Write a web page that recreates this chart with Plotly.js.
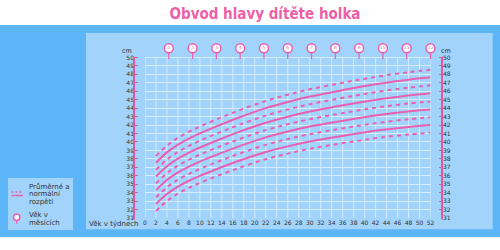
<!DOCTYPE html>
<html>
<head>
<meta charset="utf-8">
<script src="https://cdn.plot.ly/plotly-3.0.1.min.js"></script>
<style>html,body{margin:0;padding:0;background:#fff;}#chart{width:500px;height:250px;}</style>
</head>
<body>
<div id="chart"></div>
<script>
// ---- data ----
const weeks = [2, 4, 6, 8, 10, 13, 17, 22, 26, 30, 35, 39, 43, 48, 52];
const line1 = [38.35, 39.57, 40.49, 41.21, 41.83, 42.66, 43.70, 44.85, 45.59, 46.23, 46.88, 47.37, 47.81, 48.26, 48.55];
const line2 = [37.55, 38.77, 39.68, 40.40, 41.01, 41.84, 42.87, 44.01, 44.74, 45.37, 46.01, 46.50, 46.93, 47.37, 47.65];
const line3 = [36.70, 37.91, 38.82, 39.54, 40.15, 40.97, 41.99, 43.12, 43.84, 44.47, 45.10, 45.57, 46.00, 46.43, 46.70];
const line4 = [35.92, 37.13, 38.03, 38.74, 39.34, 40.15, 41.17, 42.28, 42.99, 43.60, 44.22, 44.68, 45.09, 45.51, 45.77];
const line5 = [35.10, 36.30, 37.20, 37.90, 38.50, 39.30, 40.30, 41.40, 42.10, 42.70, 43.30, 43.75, 44.15, 44.55, 44.80];
const line6 = [34.30, 35.49, 36.39, 37.08, 37.68, 38.47, 39.45, 40.54, 41.23, 41.82, 42.40, 42.84, 43.23, 43.61, 43.85];
const line7 = [33.45, 34.64, 35.53, 36.22, 36.81, 37.60, 38.58, 39.66, 40.34, 40.92, 41.50, 41.93, 42.31, 42.69, 42.92];
const line8 = [32.65, 33.84, 34.72, 35.41, 35.99, 36.77, 37.74, 38.81, 39.48, 40.05, 40.62, 41.04, 41.41, 41.78, 42.00];
const line9 = [31.83, 33.01, 33.90, 34.58, 35.16, 35.94, 36.90, 37.96, 38.62, 39.19, 39.75, 40.16, 40.53, 40.88, 41.10];
const months = [1, 2, 3, 4, 5, 6, 7, 8, 9, 10, 11, 12];
const xTicks = [0,2,4,6,8,10,12,14,16,18,20,22,24,26,28,30,32,34,36,38,40,42,44,46,48,50,52];
const yTicks = [31,32,33,34,35,36,37,38,39,40,41,42,43,44,45,46,47,48,49,50];
const titleText = 'Obvod hlavy dítěte holka';
const xLabel = 'Věk v týdnech';
const unitLabel = 'cm';
const legendLines = ['Průměrné a', 'normální', 'rozpětí'];
const legendPins = ['Věk v', 'měsících'];

// ---- styling ----
const PINK = '#ea5fb0';
const AXPINK = '#e8559f';
const GRID = '#d4ecfd';
const TXT = '#333333';
const SMALL = 'DejaVu Sans, Verdana, sans-serif';

const Y_MIN = yTicks[0];
const Y_GRID_TOP = yTicks[yTicks.length - 1];
const Y_TOP = 52.07;   // room above the grid for the month pins
const X_MAX = xTicks[xTicks.length - 1];

const traces = [];
// vertical grid lines (stop at the top grid value)
const gx = [], gy = [];
xTicks.forEach(w => { gx.push(w, w, null); gy.push(Y_MIN, Y_GRID_TOP, null); });
traces.push({x: gx, y: gy, type: 'scatter', mode: 'lines', line: {color: GRID, width: 1},
             showlegend: false, hoverinfo: 'skip'});

const curves = [line1, line2, line3, line4, line5, line6, line7, line8, line9];
curves.forEach((vals, i) => traces.push({
  x: weeks, y: vals, type: 'scatter', mode: 'lines',
  line: {color: PINK, width: 2, shape: 'spline', smoothing: 1, dash: (i % 2 === 0) ? '4px,4px' : 'solid'},
  showlegend: false, hoverinfo: 'skip'
}));

const monthWeeks = months.map(m => m * X_MAX / 12);
traces.push({
  x: monthWeeks, y: months.map(() => 50.31), type: 'scatter', mode: 'markers',
  marker: {symbol: 'line-ns', size: 6, color: PINK, line: {color: PINK, width: 1.2}},
  cliponaxis: false, showlegend: false, hoverinfo: 'skip'
});
traces.push({
  x: monthWeeks, y: months.map(() => 51.09), type: 'scatter', mode: 'markers+text',
  marker: {symbol: 'circle', size: 9, color: '#ffffff', line: {color: PINK, width: 1.5}},
  text: months.map(String), textposition: 'middle center',
  textfont: {family: SMALL, size: 4.5, color: PINK},
  cliponaxis: false, showlegend: false, hoverinfo: 'skip'
});
traces.push({x: [null], y: [null], yaxis: 'y2', type: 'scatter', showlegend: false, hoverinfo: 'skip'});
traces.push({x: [null], y: [null], yaxis: 'y3', type: 'scatter', showlegend: false, hoverinfo: 'skip'});

// paper-coordinate helpers (plot paper spans x 134..442 px, y 40..218 px)
const PX = px => (px - 134) / 308;
const PY = py => (218 - py) / 178;

const sideAxis = (side, pos) => ({
  overlaying: 'y', anchor: 'free', position: pos, side: side,
  range: [Y_MIN, Y_TOP], tickvals: yTicks, showgrid: false, zeroline: false,
  showline: false,
  ticks: 'inside', ticklen: 3, tickwidth: 1, tickcolor: AXPINK,
  tickfont: {family: SMALL, size: 6, color: TXT}, fixedrange: true
});

const annotations = [
  {xref: 'paper', yref: 'paper', x: PX(140.5), y: PY(224.3), xanchor: 'right', yanchor: 'middle',
   text: xLabel, showarrow: false, font: {family: SMALL, size: 7, color: TXT}},
  {xref: 'paper', yref: 'paper', x: PX(126.7), y: PY(50.7), xanchor: 'center', yanchor: 'middle',
   text: unitLabel, showarrow: false, font: {family: SMALL, size: 6.5, color: TXT}},
  {xref: 'paper', yref: 'paper', x: PX(445.5), y: PY(50.7), xanchor: 'center', yanchor: 'middle',
   text: unitLabel, showarrow: false, font: {family: SMALL, size: 6.5, color: TXT}}
];
const legTextY = [186.7, 194.2, 201.7];
legendLines.forEach((t, i) => annotations.push({
  xref: 'paper', yref: 'paper', x: PX(26.5), y: PY(legTextY[i]), xanchor: 'left', yanchor: 'middle',
  text: t, showarrow: false, font: {family: SMALL, size: 7, color: TXT}
}));
const pinTextY = [215, 222.7];
legendPins.forEach((t, i) => annotations.push({
  xref: 'paper', yref: 'paper', x: PX(26.5), y: PY(pinTextY[i]), xanchor: 'left', yanchor: 'middle',
  text: t, showarrow: false, font: {family: SMALL, size: 7, color: TXT}
}));

const shapes = [
  {type: 'rect', xref: 'paper', yref: 'paper', x0: PX(0), x1: PX(500), y0: PY(237), y1: PY(25),
   fillcolor: '#5bb5f6', line: {width: 0}, layer: 'below'},
  {type: 'rect', xref: 'paper', yref: 'paper', x0: PX(86), x1: PX(492.7), y0: PY(229.3), y1: PY(33),
   fillcolor: '#a2d4fb', line: {width: 0}, layer: 'below'},
  {type: 'rect', xref: 'paper', yref: 'paper', x0: PX(8), x1: PX(73), y0: PY(230), y1: PY(178),
   fillcolor: '#a2d4fb', line: {width: 0}, layer: 'below'},
  // pink side axis lines
  {type: 'line', xref: 'paper', yref: 'paper', x0: 0, x1: 0, y0: PY(219.5), y1: PY(56.7),
   line: {color: AXPINK, width: 2}},
  {type: 'line', xref: 'paper', yref: 'paper', x0: 1, x1: 1, y0: PY(219.5), y1: PY(56.7),
   line: {color: AXPINK, width: 2}},
  // legend icons
  {type: 'line', xref: 'paper', yref: 'paper', x0: PX(11.5), x1: PX(23), y0: PY(192), y1: PY(192),
   line: {color: PINK, width: 1.5, dash: '2px,2px'}},
  {type: 'line', xref: 'paper', yref: 'paper', x0: PX(11.5), x1: PX(23), y0: PY(195.5), y1: PY(195.5),
   line: {color: PINK, width: 1.5}},
  {type: 'line', xref: 'paper', yref: 'paper', x0: PX(16.7), x1: PX(16.7), y0: PY(220.3), y1: PY(223.8),
   line: {color: PINK, width: 1.2}},
  {type: 'circle', xref: 'paper', yref: 'paper', x0: PX(13.5), x1: PX(19.9), y0: PY(220.4), y1: PY(214),
   fillcolor: '#ffffff', line: {color: PINK, width: 1.5}}
];

const layout = {
  width: 500, height: 250,
  margin: {l: 134, r: 58, t: 40, b: 32, pad: 0},
  paper_bgcolor: '#ffffff', plot_bgcolor: 'rgba(0,0,0,0)',
  title: {text: titleText, xref: 'paper', x: PX(265), y: 1 - 14 / 250, xanchor: 'center', yanchor: 'middle',
          font: {family: 'DejaVu Sans Condensed, Liberation Sans Narrow, sans-serif', size: 15, color: '#ee5fa7', weight: 'bold'}},
  xaxis: {domain: [PX(145), PX(430.5)], range: [0, X_MAX], tickvals: xTicks, showgrid: false,
          zeroline: false, showline: false, ticks: '',
          tickfont: {family: SMALL, size: 6, color: TXT}, fixedrange: true},
  yaxis: {range: [Y_MIN, Y_TOP], tickvals: yTicks, showgrid: true, gridcolor: GRID, gridwidth: 1,
          zeroline: false, showline: false, showticklabels: false, ticks: '', fixedrange: true},
  yaxis2: sideAxis('left', 0),
  yaxis3: sideAxis('right', 1),
  shapes: shapes, annotations: annotations, showlegend: false
};

Plotly.newPlot('chart', traces, layout, {displayModeBar: false, staticPlot: true});
</script>
</body>
</html>
